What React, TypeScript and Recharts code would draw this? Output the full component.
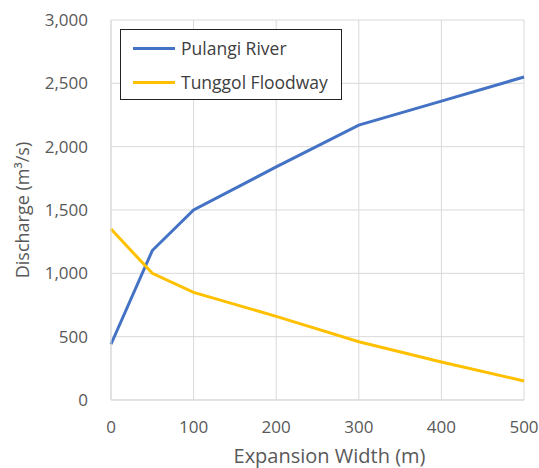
import { LineChart, Line, XAxis, YAxis, CartesianGrid, Legend } from 'recharts';

const widths = [0, 50, 100, 200, 300, 400, 500];
const pulangi = [440, 1180, 1500, 1840, 2170, 2360, 2550];
const tunggol = [1350, 1000, 850, 660, 460, 300, 150];
const xTicks = [0, 100, 200, 300, 400, 500];
const yTicks = [0, 500, 1000, 1500, 2000, 2500, 3000];

const data = widths.map((w, i) => ({ w, pulangi: pulangi[i], tunggol: tunggol[i] }));

const font = '"Open Sans", sans-serif';

function LegendBox(props: any) {
  const items = props.payload || [];
  return (
    <div style={{ border: '1px solid #222', background: '#fff', width: 222, height: 71, boxSizing: 'border-box', padding: '1px 0 0 12px' }}>
      {items.map((it: any) => (
        <div key={it.value} style={{ display: 'flex', alignItems: 'center', height: 34 }}>
          <span style={{ display: 'inline-block', width: 42, height: 3, background: it.color, marginRight: 6 }} />
          <span style={{ fontFamily: font, fontSize: 17.5, color: '#404040' }}>{it.value}</span>
        </div>
      ))}
    </div>
  );
}

export default function App() {
  return (
    <div style={{ position: 'absolute', left: 0, top: 0, background: '#fff' }}>
      <LineChart width={539} height={468} data={data} margin={{ top: 20, right: 15, left: 0, bottom: 0 }}>
        <CartesianGrid stroke="#d9d9d9" />
        <XAxis
          dataKey="w"
          type="number"
          domain={[0, 500]}
          ticks={xTicks}
          height={68}
          tickSize={0}
          tickMargin={21}
          axisLine={{ stroke: '#d9d9d9' }}
          tick={{ fill: '#595959', fontSize: 17, fontFamily: font }}
          label={{ value: 'Expansion Width (m)', position: 'insideBottom', offset: 5, dx: 12, fill: '#595959', fontSize: 20, fontFamily: font }}
        />
        <YAxis
          type="number"
          domain={[0, 3000]}
          ticks={yTicks}
          width={111}
          tickSize={0}
          tickMargin={23}
          axisLine={{ stroke: '#d9d9d9' }}
          tickFormatter={(v: number) => v.toLocaleString('en-US')}
          tick={{ fill: '#595959', fontSize: 17, fontFamily: font }}
          label={{ value: 'Discharge (m³/s)', angle: -90, position: 'center', dx: -33, fill: '#595959', fontSize: 18, fontFamily: font }}
        />
        <Legend
          layout="horizontal"
          verticalAlign="middle"
          align="center"
          content={<LegendBox />}
          wrapperStyle={{ left: 120, top: 29, width: 222 }}
        />
        <Line dataKey="pulangi" name="Pulangi River" stroke="#4472C4" strokeWidth={3} dot={false} isAnimationActive={false} />
        <Line dataKey="tunggol" name="Tunggol Floodway" stroke="#FFC000" strokeWidth={3} dot={false} isAnimationActive={false} />
      </LineChart>
    </div>
  );
}
